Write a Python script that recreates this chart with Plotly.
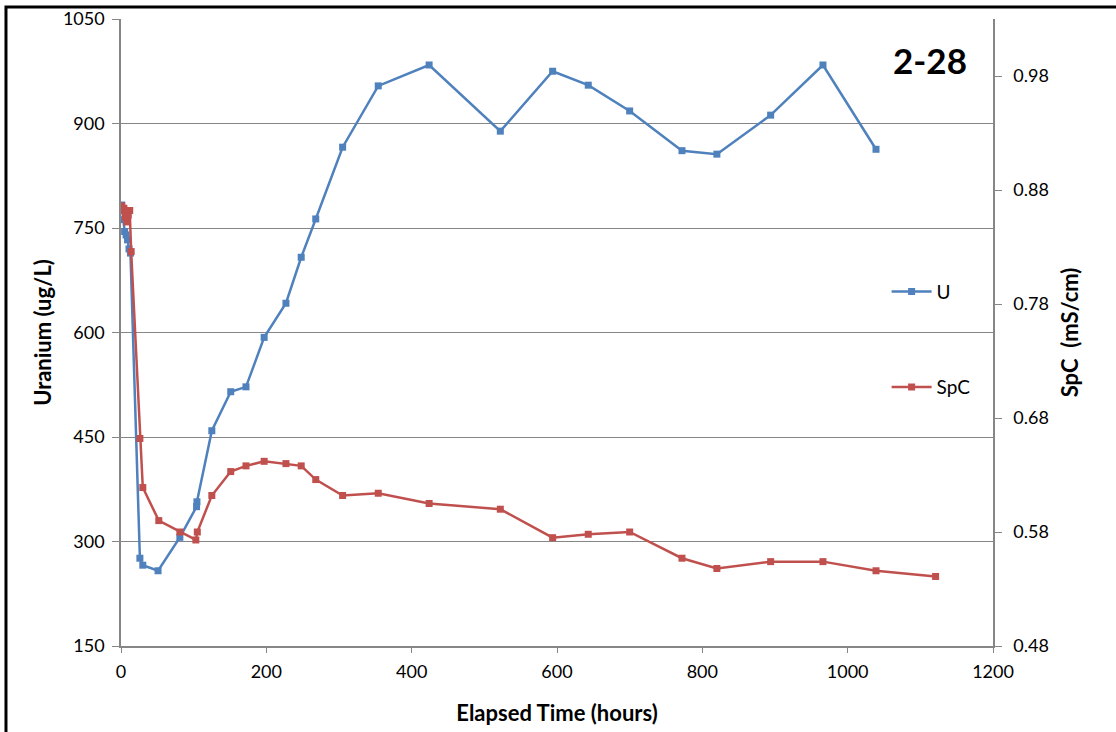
import plotly.graph_objects as go

# Uranium series (ug/L)
u_time = [1, 3, 5, 7, 9, 11, 13, 26, 30, 51, 81, 104, 104.5, 125, 151, 172, 197, 227, 248, 268,
          305, 354, 424, 522, 594, 643, 700, 772, 820, 894, 966, 1039]
u_vals = [783, 762, 745, 740, 733, 720, 714, 276, 266, 258, 306, 350, 357, 459, 515, 522, 593, 642, 708, 763,
          866, 954, 984, 889, 975, 955, 918, 861, 856, 912, 984, 863]

# Specific conductance series (mS/cm)
s_time = [1, 2, 4, 6, 8, 10, 12, 14, 26, 30, 52, 81, 103, 105, 125, 151, 172, 197, 227, 248, 268,
          305, 354, 424, 522, 594, 643, 700, 772, 820, 894, 966, 1039, 1121]
s_vals = [0.866, 0.862, 0.864, 0.856, 0.852, 0.858, 0.862, 0.826, 0.662, 0.619, 0.590, 0.580, 0.573, 0.580,
          0.612, 0.633, 0.638, 0.642, 0.640, 0.638, 0.626, 0.612, 0.614, 0.605, 0.600, 0.575, 0.578, 0.580,
          0.557, 0.548, 0.554, 0.554, 0.546, 0.541]

FONT = "Lato"
GRAY = "#868686"

fig = go.Figure()
fig.add_trace(go.Scatter(x=u_time, y=u_vals, name="U", mode="lines+markers",
                         line=dict(color="#4F81BD", width=2.5),
                         marker=dict(symbol="square", size=7, color="#4F81BD"),
                         legend="legend", showlegend=True))
fig.add_trace(go.Scatter(x=s_time, y=s_vals, name="SpC", mode="lines+markers", yaxis="y2",
                         line=dict(color="#C0504D", width=2.5),
                         marker=dict(symbol="square", size=7, color="#C0504D"),
                         legend="legend2", showlegend=True))

fig.update_layout(
    width=1116, height=732,
    showlegend=True,
    margin=dict(l=121, r=123, t=19, b=86, autoexpand=False),
    paper_bgcolor="white", plot_bgcolor="white",
    font=dict(family=FONT, size=18, color="black"),
    xaxis=dict(range=[0, 1200], dtick=200, tick0=0, showgrid=False, showline=True, automargin=False,
               linecolor=GRAY, linewidth=1.5, ticks="outside", ticklen=5, tickcolor=GRAY,
               zeroline=False, ticklabelstandoff=4,
               title=dict(text="<b>Elapsed Time (hours)</b>", font=dict(size=22), standoff=24)),
    yaxis=dict(range=[150, 1050], dtick=150, tick0=150, showgrid=True, gridcolor=GRAY, gridwidth=1,
               showline=True, linecolor=GRAY, linewidth=1.5, ticks="outside", ticklen=7, automargin=False,
               tickcolor=GRAY, zeroline=False, ticklabelstandoff=4,
               title=dict(text="<b>Uranium (ug/L)</b>", font=dict(size=22), standoff=5)),
    yaxis2=dict(range=[0.48, 1.03], dtick=0.1, tick0=0.48, tickformat=".2f", overlaying="y",
                side="right", showgrid=False, showline=True, linecolor=GRAY, linewidth=1.5,
                ticks="outside", ticklen=7, tickcolor=GRAY, zeroline=False, automargin=False,
                ticklabelstandoff=8,
                title=dict(text="<b>SpC  (mS/cm)</b>", font=dict(size=22), standoff=15)),
    legend=dict(x=0.878, y=0.565, xanchor="left", yanchor="middle", bgcolor="rgba(0,0,0,0)",
                font=dict(size=19), itemwidth=40),
    legend2=dict(x=0.878, y=0.413, xanchor="left", yanchor="middle", bgcolor="rgba(0,0,0,0)",
                 font=dict(size=19), itemwidth=40),
    annotations=[dict(text="<b>2-28</b>", x=0.928, y=0.9346, xref="paper", yref="paper",
                      xanchor="center", yanchor="middle",
                      showarrow=False, font=dict(size=35, family=FONT))],
    shapes=[dict(type="rect", xref="paper", yref="paper", x0=-0.1319, y0=-0.3, x1=1.5, y1=1.0191,
                 line=dict(color="black", width=3), fillcolor="rgba(0,0,0,0)", layer="above")],
)

fig.write_html("out.html", config={"displayModeBar": False},
               post_script="document.body.style.margin='0';")
